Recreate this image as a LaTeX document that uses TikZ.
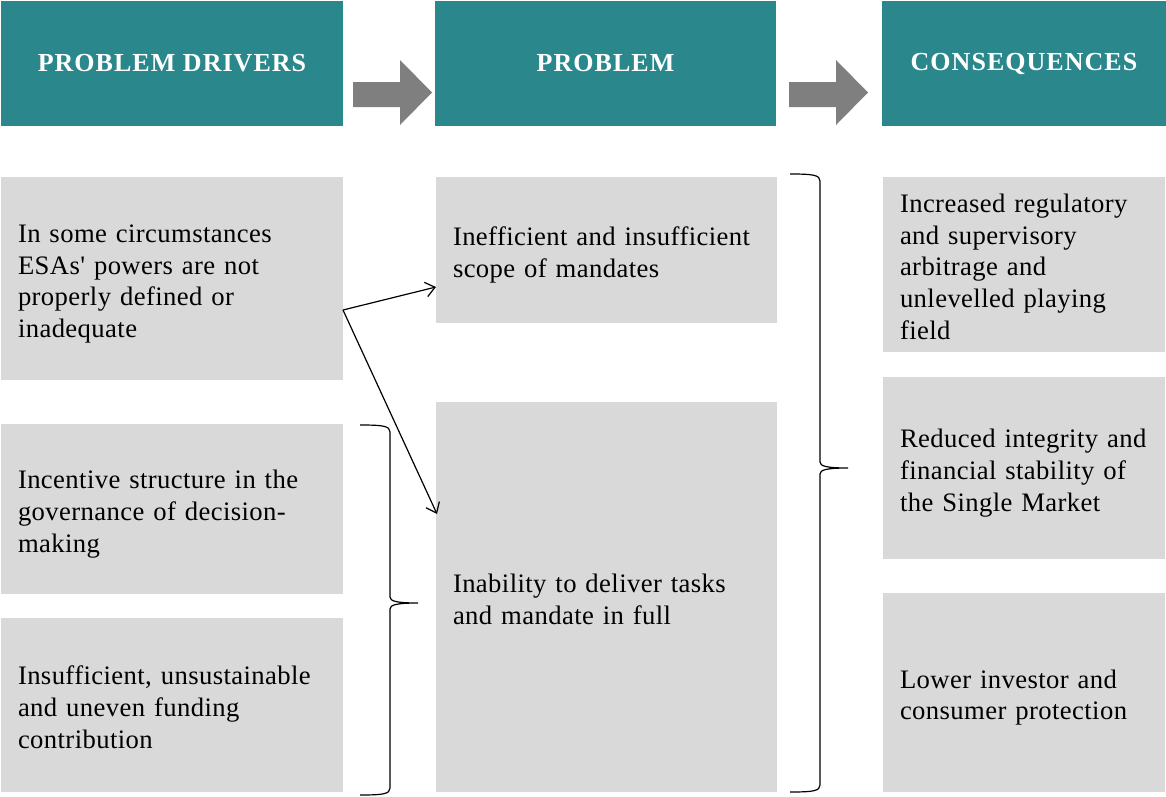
\documentclass[tikz,border=0pt]{standalone}
\usepackage{fontspec}
\setmainfont{Liberation Serif}
\newfontfamily\bodyfont{Liberation Serif}[LetterSpace=1.5]
\newfontfamily\headfont{Liberation Serif}[LetterSpace=4]
\usetikzlibrary{arrows.meta}
\definecolor{teal1}{RGB}{42,135,140}
\definecolor{boxgray}{RGB}{217,217,217}
\definecolor{arrgray}{RGB}{127,127,127}
\begin{document}
\begin{tikzpicture}[x=0.75pt,y=-0.75pt,
  header/.style={fill=teal1, draw=none, text=white, align=center, inner sep=0pt,
    font=\headfont\bfseries\fontsize{19.5pt}{22pt}\selectfont, minimum height=93.75pt},
  graybox/.style={fill=boxgray, draw=none, align=left, inner xsep=12.75pt, inner ysep=0pt,
    font=\bodyfont\fontsize{20pt}{23.8pt}\selectfont,
    execute at begin node=\rule{0pt}{23.2pt},
    execute at end node=\rule[-6pt]{0pt}{6pt}},
  brace/.style={draw=black, line width=0.9pt},
  link/.style={draw=black, line width=0.9pt, -{Straight Barb[length=7pt,width=11pt,line width=0.9pt]}},
  bigarrow/.style={fill=arrgray, draw=none}]
\useasboundingbox (0,0) rectangle (1166,796);
% headers
\node[header, minimum width=256.5pt] (h1) at (172,63.5) {PROBLEM DRIVERS};
\node[header, minimum width=255.75pt] (h2) at (605.5,63.5) {PROBLEM};
\node[header, minimum width=213pt] (h3) at (1024,63.5) {CONSEQUENCES};
% big gray arrows
\fill[bigarrow] (353,82) -- (400,82) -- (400,60) -- (432,92.5) -- (400,125) -- (400,107) -- (353,107) -- cycle;
\fill[bigarrow] (789,82) -- (836,82) -- (836,60) -- (868,92.5) -- (836,125) -- (836,107) -- (789,107) -- cycle;
% left column
\node[graybox, text width=231pt, minimum height=152.25pt] (a) at (172,278.5)
  {In some circumstances\\ESAs' powers are not\\properly defined or\\inadequate};
\node[graybox, text width=231pt, minimum height=127.5pt] (b) at (172,509)
  {Incentive structure in the\\governance of decision-\\making};
\node[graybox, text width=231pt, minimum height=130.5pt] (c) at (172,705)
  {Insufficient, unsustainable\\and uneven funding\\contribution};
% middle column
\node[graybox, text width=230.25pt, minimum height=109.5pt] (d) at (606.5,250)
  {Inefficient and insufficient\\scope of mandates};
\node[graybox, text width=230.25pt, minimum height=292.5pt] (e) at (606.5,597)
  {Inability to deliver tasks\\and mandate in full};
% right column
\node[graybox, text width=186pt, minimum height=131.25pt] (f) at (1024,264.5)
  {Increased regulatory\\and supervisory\\arbitrage and\\unlevelled playing\\field};
\node[graybox, text width=186pt, minimum height=136.5pt] (g) at (1024,468)
  {Reduced integrity and\\financial stability of\\the Single Market};
\node[graybox, text width=186pt, minimum height=149.25pt] (h) at (1024,692.5)
  {Lower investor and\\consumer protection};
% connectors from box a
\coordinate (split) at (343,310);
\coordinate (din) at (436,287);
\coordinate (ein) at (437,514);
\draw[link] (split) -- (din);
\draw[link] (split) -- (ein);
% left brace
\draw[brace] (360,425) .. controls (383,425) and (390,426) .. (390,432) -- (390,597)
  .. controls (390,601) and (396,603) .. (418,603)
  .. controls (396,603) and (390,605) .. (390,609) -- (390,788)
  .. controls (390,794) and (383,795) .. (360,795);
% right brace
\draw[brace] (790,174) .. controls (813,174) and (820,175) .. (820,181) -- (820,462)
  .. controls (820,466) and (826,468) .. (848,468)
  .. controls (826,468) and (820,470) .. (820,474) -- (820,785)
  .. controls (820,791) and (813,792) .. (790,792);
\end{tikzpicture}
\end{document}
